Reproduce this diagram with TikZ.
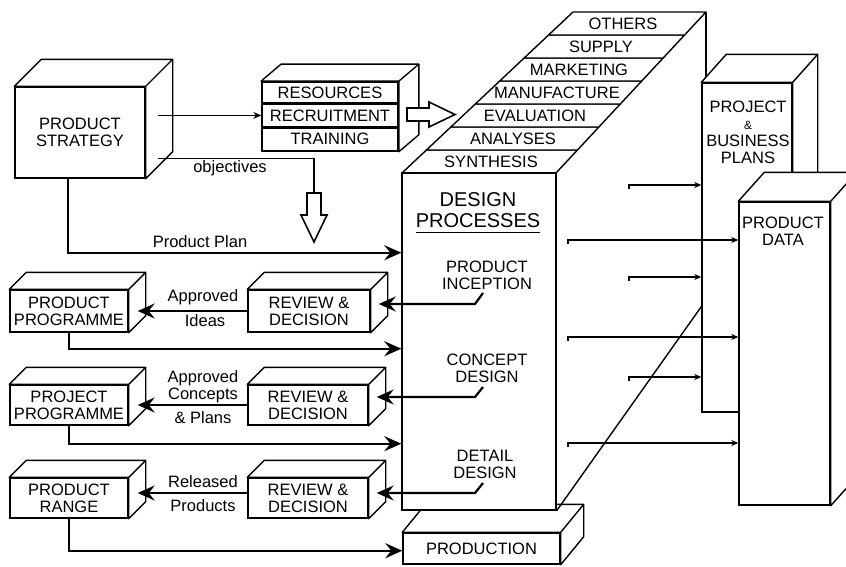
\documentclass[tikz,border=0pt]{standalone}
\usepackage{fontspec}
\setmainfont{Liberation Sans}
\usetikzlibrary{arrows.meta,calc,fit,positioning}

\newcommand\boxfont{\fontsize{16.5}{17}\selectfont}
\newcommand\titlefont{\fontsize{20}{20.5}\selectfont}
\newcommand\boxdepth[3]{%
  \draw[depthface] (#1.north west) -- ++(#2,-#3) -- ($(#1.north east)+(#2,-#3)$)
    -- ($(#1.south east)+(#2,-#3)$) -- (#1.south east) -- (#1.north east) -- cycle
    (#1.north east) -- ++(#2,-#3);
}

\begin{document}
\begin{tikzpicture}[x=1pt,y=-1pt,
  face/.style={draw,fill=white,line width=1.4pt,inner sep=0pt,align=center,font=\boxfont},
  depthface/.style={draw,fill=white,line width=1.4pt,line join=round},
  layer/.style={draw,fill=white,line width=1.4pt,line join=round},
  lbl/.style={font=\boxfont,inner sep=1pt,align=center},
  bigarrow/.style={line width=2.2pt,-{Stealth[length=17pt,width=15pt,inset=6pt]}},
  thinarrow/.style={line width=1.4pt,-{Stealth[length=8pt,width=7pt]}},
  smallarrow/.style={line width=1.4pt,-{Stealth[length=7pt,width=6pt]}},
  hollow/.style={draw,fill=white,line width=1.6pt,line join=miter}]
\useasboundingbox (0,0) rectangle (846,566);

\node[face,minimum width=130,minimum height=91] (strat) at (80,132.5) {PRODUCT\\STRATEGY};
\boxdepth{strat}{27}{27}

\node[face,minimum width=136,minimum height=21] (resA) at (330,92.5) {RESOURCES};
\node[face,minimum width=136,minimum height=22,below=0pt of resA] (resB) {RECRUITMENT};
\node[face,minimum width=136,minimum height=23,below=0pt of resB] (resC) {TRAINING};
\node[fit=(resA)(resC),inner sep=0pt] (res) {};
\boxdepth{res}{20}{17}

\foreach \i/\lab in {0/SYNTHESIS,1/ANALYSES,2/EVALUATION,3/MANUFACTURE,4/MARKETING,5/SUPPLY,6/OTHERS} {
  \draw[layer] ({402+24.43*\i},{173-23*\i}) -- ({556+21.43*\i},{173-23*\i})
    -- ({556+21.43*(\i+1)},{173-23*(\i+1)}) -- ({402+24.43*(\i+1)},{173-23*(\i+1)}) -- cycle;
  \node[lbl] (lay\i) at ({480+22*(\i+0.5)},{173-23*(\i+0.5)}) {\lab};
}
\draw[line width=1.4pt] (706,12) -- (706,90);

\node[face,minimum width=157,minimum height=31] (prod) at (481.5,548.5) {PRODUCTION};
\boxdepth{prod}{23}{28}

\node[face,minimum width=154,minimum height=337] (design) at (479,341.5) {};
\draw[line width=1.4pt] (design.south east) -- (706,300);
\node[font=\titlefont,align=center,inner sep=0pt] (dptitle) at (478,210) {DESIGN\\PROCESSES};
\draw[line width=1.3pt] ([yshift=-5pt]dptitle.south west) -- ([yshift=-5pt]dptitle.south east);
\node[lbl] (incep) at (487,275) {PRODUCT\\INCEPTION};
\node[lbl] (concept) at (487,368) {CONCEPT\\DESIGN};
\node[lbl] (detail) at (485,464) {DETAIL\\DESIGN};

\node[face,minimum width=90,minimum height=329] (proj) at (747,247.5) {};
\boxdepth{proj}{25}{28}
\node[lbl] (projtxt) at (748,132) {PROJECT\\{\fontsize{12}{17}\selectfont\&}\\BUSINESS\\PLANS};

\node[face,minimum width=91,minimum height=303] (data) at (784.5,353.5) {};
\boxdepth{data}{26}{29}
\node[lbl] (datatxt) at (783,231) {PRODUCT\\DATA};

\node[face,minimum width=118,minimum height=42] (pp1) at (69,311) {PRODUCT\\PROGRAMME};
\boxdepth{pp1}{17}{17}
\node[face,minimum width=122,minimum height=42] (rd1) at (309,311) {REVIEW \&\\DECISION};
\boxdepth{rd1}{17}{17}
\node[face,minimum width=118,minimum height=40] (pp2) at (69,405) {PROJECT\\PROGRAMME};
\boxdepth{pp2}{17}{17}
\node[face,minimum width=120,minimum height=40] (rd2) at (308,405) {REVIEW \&\\DECISION};
\boxdepth{rd2}{17}{17}
\node[face,minimum width=118,minimum height=40] (pp3) at (69,498) {PRODUCT\\RANGE};
\boxdepth{pp3}{17}{17}
\node[face,minimum width=120,minimum height=40] (rd3) at (308,498) {REVIEW \&\\DECISION};
\boxdepth{rd3}{17}{17}

\draw[thinarrow] ([xshift=12pt]strat.east |- resB.west) -- (resB.west);
\coordinate (resArr) at (407,114.5);
\draw[hollow] ($(resArr)+(0,-6.5)$) -- ++(22,0) -- ++(0,-6) -- ++(26,12.5) -- ++(-26,12.5)
  -- ++(0,-6) -- ++(-22,0) -- cycle;

\coordinate (objA) at (314,193);
\draw[line width=1.4pt] ([shift={(12,26)}]strat.east) -| (objA);
\draw[hollow] ($(objA)+(-7,0)$) -- ++(14,0) -- ++(0,22) -- ++(6,0) -- ++(-13,27)
  -- ++(-13,-27) -- ++(6,0) -- cycle;
\node[lbl] (objlbl) at (230,168) {objectives};

\draw[bigarrow] ([xshift=-12pt]strat.south) -- ++(0,74) coordinate (k0) -- (k0 -| design.west);
\node[lbl] (planlbl) at (200,242) {Product Plan};

\coordinate (incT) at (483,293);
\draw[bigarrow] (incT) -- ++(-8,11) coordinate (incL) -- ($(incL -| rd1.east)+(8,0)$);
\coordinate (conT) at (483,387);
\draw[bigarrow] (conT) -- ++(-8,10) coordinate (conL) -- ($(conL -| rd2.east)+(8,0)$);
\coordinate (detT) at (483,483);
\draw[bigarrow] (detT) -- ++(-8,10) coordinate (detL) -- ($(detL -| rd3.east)+(8,0)$);

\draw[bigarrow] (rd1.west) -- ([xshift=9pt]pp1.east);
\node[lbl] (ap1) at (203,297) {Approved};
\node[lbl] (ap1b) at (205,321) {Ideas};
\draw[bigarrow] (rd2.west) -- ([xshift=9pt]pp2.east);
\node[lbl] (ap2) at (203,378) {Approved};
\node[lbl] (ap2b) at (203,395) {Concepts};
\node[lbl] (ap2c) at (203,418) {\& Plans};
\draw[bigarrow] ([yshift=5pt]rd3.west) -- ([xshift=9pt,yshift=5pt]pp3.east);
\node[lbl] (rel1) at (203,482) {Released};
\node[lbl] (rel1b) at (203,506) {Products};

\draw[bigarrow] (pp1.south) -- ++(0,16) coordinate (k1) -- (k1 -| design.west);
\draw[bigarrow] (pp2.south) -- ++(0,18) coordinate (k2) -- (k2 -| design.west);
\draw[bigarrow] (pp3.south) -- ++(0,32) coordinate (k3) -- (k3 -| prod.west);

\foreach \n/\x/\y/\tgt in {s1/629/185/proj,s2/568/240/data,s3/629/277/proj,s4/568/337/data,s5/629/377/proj,s6/568/443/data} {
  \coordinate (\n) at (\x,\y);
  \draw[smallarrow] ($(\n)+(0,4)$) |- (\n -| \tgt.west);
}
\end{tikzpicture}
\end{document}
